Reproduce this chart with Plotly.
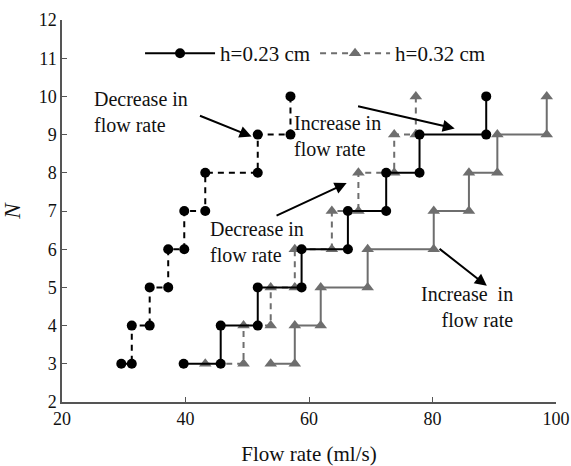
import plotly.graph_objects as go

# h=0.23 cm, increasing flow rate (solid black)
inc023_x = [39.7, 45.7, 45.7, 51.7, 51.7, 58.8, 58.8, 66.3, 66.3, 72.5, 72.5, 77.9, 77.9, 88.7, 88.7]
inc023_y = [3, 3, 4, 4, 5, 5, 6, 6, 7, 7, 8, 8, 9, 9, 10]
# h=0.23 cm, decreasing flow rate (dashed black)
dec023_x = [57.0, 57.0, 51.7, 51.7, 43.2, 43.2, 39.8, 39.8, 37.2, 37.2, 34.2, 34.2, 31.3, 31.3, 29.6]
dec023_y = [10, 9, 9, 8, 8, 7, 7, 6, 6, 5, 5, 4, 4, 3, 3]
# h=0.32 cm, increasing flow rate (solid gray)
inc032_x = [53.8, 57.7, 57.7, 61.9, 61.9, 69.5, 69.5, 80.2, 80.2, 85.9, 85.9, 90.5, 90.5, 98.5, 98.5]
inc032_y = [3, 3, 4, 4, 5, 5, 6, 6, 7, 7, 8, 8, 9, 9, 10]
# h=0.32 cm, decreasing flow rate (dashed gray)
dec032_x = [77.3, 77.3, 73.8, 73.8, 68.0, 68.0, 63.7, 63.7, 57.7, 57.7, 53.8, 53.8, 49.4, 49.4, 43.2]
dec032_y = [10, 9, 9, 8, 8, 7, 7, 6, 6, 5, 5, 4, 4, 3, 3]

x_ticks = [20, 40, 60, 80, 100]
y_ticks = list(range(2, 13))

BLACK = "#000000"
GRAY = "#6e6e6e"
FONT = "Liberation Serif, Times New Roman, Times, serif"

fig = go.Figure()
fig.add_trace(go.Scatter(x=inc032_x, y=inc032_y, mode="lines+markers", name="h=0.32 cm inc",
                         line=dict(color=GRAY, width=2),
                         marker=dict(symbol="triangle-up", size=11, color=GRAY), showlegend=False))
fig.add_trace(go.Scatter(x=dec032_x, y=dec032_y, mode="lines+markers", name="h=0.32 cm",
                         line=dict(color=GRAY, width=2, dash="6px,5px"),
                         marker=dict(symbol="triangle-up", size=11, color=GRAY), showlegend=True))
fig.add_trace(go.Scatter(x=dec023_x, y=dec023_y, mode="lines+markers", name="h=0.23 cm dec",
                         line=dict(color=BLACK, width=2, dash="6px,5px"),
                         marker=dict(symbol="circle", size=10, color=BLACK), showlegend=False))
fig.add_trace(go.Scatter(x=inc023_x, y=inc023_y, mode="lines+markers", name="h=0.23 cm",
                         line=dict(color=BLACK, width=2),
                         marker=dict(symbol="circle", size=10, color=BLACK), showlegend=True))

texts = [
    ("Decrease in<br>flow rate", 24.9, 9.59, "left"),
    ("Increase in<br>flow rate", 57.3, 8.96, "left"),
    ("Decrease in<br>flow rate", 43.7, 6.2, "left"),
    ("Increase&nbsp; in<br>flow rate", 93.35, 4.5, "right"),
]
for t, x, y, al in texts:
    fig.add_annotation(text=t, x=x, y=y, xref="x", yref="y", showarrow=False,
                       xanchor=al, yanchor="middle", align=al,
                       font=dict(family=FONT, size=20, color="#111"))

arrows = [
    (42.1, 9.51, 50.7, 8.95),
    (67.7, 9.75, 83.6, 9.16),
    (54.5, 6.86, 66.1, 7.73),
    (80.9, 6.04, 88.8, 5.04),
]
for ax, ay, x, y in arrows:
    fig.add_annotation(text="", x=x, y=y, ax=ax, ay=ay, xref="x", yref="y",
                       axref="x", ayref="y", showarrow=True, arrowhead=2,
                       arrowsize=1.2, arrowwidth=2, arrowcolor=BLACK)

fig.update_layout(
    width=571, height=466,
    margin=dict(l=62, r=15, t=19.5, b=63.5),
    paper_bgcolor="white", plot_bgcolor="white",
    font=dict(family=FONT, color="#111"),
    legend=dict(orientation="h", x=0.158, y=0.912, xanchor="left", yanchor="middle",
                traceorder="reversed", font=dict(family=FONT, size=21),
                bgcolor="rgba(0,0,0,0)", itemwidth=70),
    xaxis=dict(range=[20, 100], tickvals=x_ticks, showgrid=False, zeroline=False,
               showline=True, linecolor="#555", linewidth=1.5, automargin=False,
               ticks="inside", ticklen=5, tickcolor="#555",
               tickfont=dict(family=FONT, size=18, color="#111"),
               title=dict(text="Flow rate (ml/s)", font=dict(family=FONT, size=21, color="#111"),
                          standoff=18)),
    yaxis=dict(range=[2, 12], tickvals=y_ticks, showgrid=False, zeroline=False,
               showline=True, linecolor="#555", linewidth=1.5, automargin=False,
               ticks="inside", ticklen=5, tickcolor="#555",
               tickfont=dict(family=FONT, size=18, color="#111"),
               title=dict(text="<i>N</i>", font=dict(family=FONT, size=23, color="#111"),
                          standoff=18)),
)

fig.write_html("out.html", config={"displayModeBar": False},
               post_script="document.body.style.margin='0px';document.body.style.overflow='hidden';")
